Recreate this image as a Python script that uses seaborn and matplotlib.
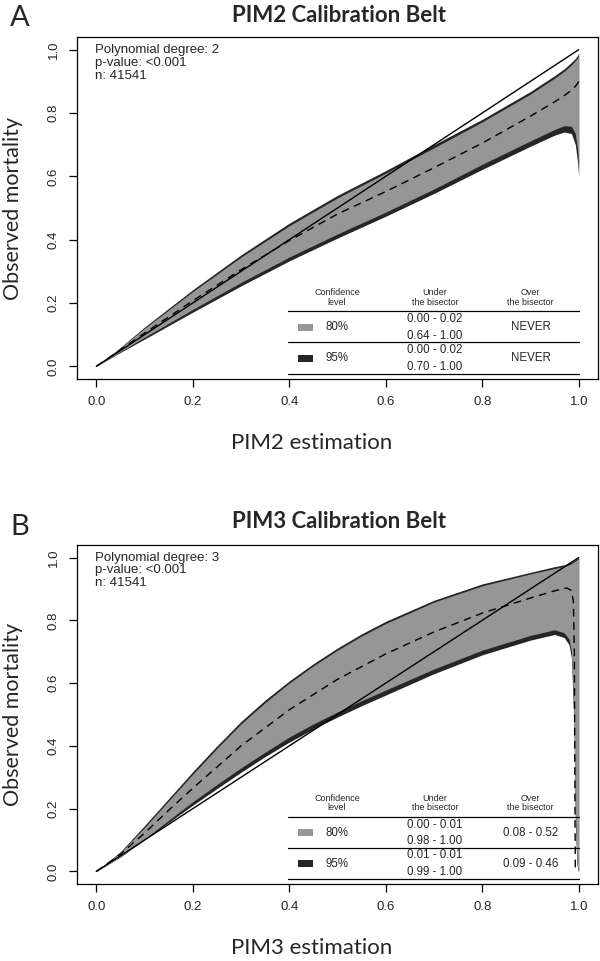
import matplotlib
matplotlib.use("Agg")
import matplotlib.pyplot as plt
from matplotlib.patches import Rectangle
import seaborn as sns

# ---- data ----
ticks = [0.0, 0.2, 0.4, 0.6, 0.8, 1.0]
tick_labels = ["0.0", "0.2", "0.4", "0.6", "0.8", "1.0"]

# panel A: PIM2
xa = [0, 0.05, 0.1, 0.2, 0.3, 0.4, 0.5, 0.6, 0.7, 0.8, 0.9, 0.95, 0.97, 0.985, 0.993, 0.998, 1.0]
center_a = [0, 0.052, 0.105, 0.207, 0.305, 0.397, 0.481, 0.552, 0.627, 0.705, 0.79, 0.835, 0.855, 0.872, 0.884, 0.894, 0.90]
upper80_a = [0, 0.058, 0.12, 0.236, 0.345, 0.444, 0.532, 0.61, 0.69, 0.772, 0.86, 0.91, 0.932, 0.952, 0.965, 0.975, 0.98]
lower80_a = [0, 0.047, 0.092, 0.18, 0.265, 0.345, 0.418, 0.487, 0.56, 0.638, 0.712, 0.748, 0.76, 0.758, 0.735, 0.68, 0.62]
upper95_a = [0, 0.06, 0.124, 0.242, 0.352, 0.452, 0.54, 0.618, 0.70, 0.78, 0.868, 0.918, 0.94, 0.96, 0.972, 0.982, 0.99]
lower95_a = [0, 0.044, 0.086, 0.171, 0.254, 0.333, 0.405, 0.474, 0.546, 0.622, 0.695, 0.73, 0.74, 0.735, 0.70, 0.64, 0.60]

# panel B: PIM3
xb = [0, 0.05, 0.1, 0.15, 0.2, 0.25, 0.3, 0.35, 0.4, 0.45, 0.5, 0.55, 0.6, 0.7, 0.8, 0.9,
      0.95, 0.97, 0.98, 0.985, 0.99, 0.993, 0.996, 0.998, 1.0]
upper80_b = [0, 0.06, 0.14, 0.225, 0.31, 0.392, 0.47, 0.538, 0.6, 0.655, 0.705, 0.75, 0.79, 0.858, 0.91, 0.948,
             0.965, 0.972, 0.977, 0.981, 0.986, 0.989, 0.992, 0.994, 0.996]
lower80_b = [0, 0.048, 0.104, 0.163, 0.222, 0.277, 0.33, 0.38, 0.428, 0.47, 0.508, 0.544, 0.578, 0.645, 0.705, 0.752,
             0.77, 0.76, 0.74, 0.70, 0.50, 0.20, 0.05, 0.01, 0.0]
upper95_b = [0, 0.063, 0.146, 0.232, 0.318, 0.4, 0.478, 0.546, 0.607, 0.662, 0.712, 0.757, 0.797, 0.864, 0.916, 0.953,
             0.971, 0.977, 0.982, 0.986, 0.99, 0.993, 0.996, 0.998, 1.0]
lower95_b = [0, 0.046, 0.101, 0.156, 0.211, 0.264, 0.316, 0.366, 0.412, 0.454, 0.492, 0.528, 0.562, 0.63, 0.69, 0.737,
             0.755, 0.745, 0.722, 0.68, 0.47, 0.16, 0.03, 0.005, 0.0]
center_bx = [0, 0.05, 0.1, 0.15, 0.2, 0.3, 0.4, 0.5, 0.6, 0.7, 0.8, 0.9, 0.95, 0.975, 0.985, 0.989, 0.991, 0.992, 0.993]
center_by = [0, 0.055, 0.122, 0.195, 0.265, 0.4, 0.515, 0.612, 0.693, 0.763, 0.823, 0.871, 0.894, 0.903, 0.895, 0.86, 0.7, 0.3, 0.0]

conf_levels = ["80%", "95%"]
under_a = [["0.00 - 0.02", "0.64 - 1.00"], ["0.00 - 0.02", "0.70 - 1.00"]]
over_a = ["NEVER", "NEVER"]
under_b = [["0.00 - 0.01", "0.98 - 1.00"], ["0.01 - 0.01", "0.99 - 1.00"]]
over_b = ["0.08 - 0.52", "0.09 - 0.46"]

GRAY = "#969696"
DARK = "#262626"
TXT = "Liberation Sans"
HEAD = "Lato"

sns.set_theme(style="ticks")
plt.rcParams["font.family"] = [TXT, "DejaVu Sans"]


def draw_panel(ax, x, u95, l95, u80, l80, cx, cy, degree, under, over):
    ax.fill_between(x, l95, u95, color=DARK, linewidth=0)
    ax.fill_between(x, l80, u80, color=GRAY, linewidth=0)
    sns.lineplot(x=[0, 1], y=[0, 1], ax=ax, color="black", linewidth=1.0, estimator=None, sort=False)
    sns.lineplot(x=cx, y=cy, ax=ax, color="black", linewidth=1.0, estimator=None, sort=False,
                 linestyle=(0, (5.5, 4)))
    ax.set_xlim(-0.04, 1.04)
    ax.set_ylim(-0.04, 1.04)
    ax.set_xticks(ticks)
    ax.set_xticklabels(tick_labels, fontsize=9.5)
    ax.set_yticks(ticks)
    ax.set_yticklabels(tick_labels, fontsize=9.5, rotation=90, va="center")
    ax.tick_params(length=5.5, width=0.9, color="black", pad=7)
    for s in ax.spines.values():
        s.set_visible(True)
        s.set_color("black")
        s.set_linewidth(0.9)
    ax.set_xlabel("")
    ax.set_ylabel("")

    # stats text, top left
    for i, t in enumerate(["Polynomial degree: %d" % degree, "p-value: <0.001", "n: 41541"]):
        ax.text(-0.002, 1.0 - 0.041 * i, t, fontsize=9.5, va="center", ha="left")

    # table of confidence levels
    cols = [0.499, 0.702, 0.90]
    ax.text(cols[0], 0.218, "Confidence\nlevel", fontsize=6.5, ha="center", va="center", linespacing=1.1)
    ax.text(cols[1], 0.218, "Under\nthe bisector", fontsize=6.5, ha="center", va="center", linespacing=1.1)
    ax.text(cols[2], 0.218, "Over\nthe bisector", fontsize=6.5, ha="center", va="center", linespacing=1.1)
    for yl in [0.1735, 0.0757, -0.025]:
        ax.plot([0.398, 1.0], [yl, yl], color="black", linewidth=0.9)
    row_y = [0.123, 0.025]
    for i, yr in enumerate(row_y):
        ax.add_patch(Rectangle((0.418, yr - 0.011), 0.031, 0.022,
                               color=[GRAY, DARK][i], linewidth=0))
        ax.text(cols[0], yr, conf_levels[i], fontsize=8.3, ha="center", va="center")
        ax.text(cols[1], yr + 0.026, under[i][0], fontsize=8.3, ha="center", va="center")
        ax.text(cols[1], yr - 0.026, under[i][1], fontsize=8.3, ha="center", va="center")
        ax.text(cols[2], yr, over[i], fontsize=8.3, ha="center", va="center")


fig = plt.figure(figsize=(6, 9.61), dpi=100)
axA = fig.add_axes([77 / 600, 1 - 379 / 961, 521 / 600, 342 / 961])
axB = fig.add_axes([77 / 600, 1 - 884 / 961, 521 / 600, 339 / 961])

draw_panel(axA, xa, upper95_a, lower95_a, upper80_a, lower80_a, xa, center_a, 2, under_a, over_a)
draw_panel(axB, xb, upper95_b, lower95_b, upper80_b, lower80_b, center_bx, center_by, 3, under_b, over_b)

# titles, letters and axis labels
hfam = [HEAD, "DejaVu Sans"]
fig.text(339 / 600, 1 - 15 / 961, "PIM2 Calibration Belt", fontsize=16, fontweight="bold",
         family=hfam, ha="center", va="center")
fig.text(339 / 600, 1 - 522 / 961, "PIM3 Calibration Belt", fontsize=16, fontweight="bold",
         family=hfam, ha="center", va="center")
fig.text(20 / 600, 1 - 18 / 961, "A", fontsize=21, family=hfam, ha="center", va="center")
fig.text(20 / 600, 1 - 527 / 961, "B", fontsize=21, family=hfam, ha="center", va="center")
fig.text(312 / 600, 1 - 443 / 961, "PIM2 estimation", fontsize=16, family=hfam, ha="center", va="center")
fig.text(312 / 600, 1 - 948 / 961, "PIM3 estimation", fontsize=16, family=hfam, ha="center", va="center")
fig.text(13 / 600, 1 - 208 / 961, "Observed mortality", fontsize=15.5, family=hfam,
         rotation=90, ha="center", va="center")
fig.text(13 / 600, 1 - 714 / 961, "Observed mortality", fontsize=15.5, family=hfam,
         rotation=90, ha="center", va="center")

fig.savefig("out.png", dpi=100)
